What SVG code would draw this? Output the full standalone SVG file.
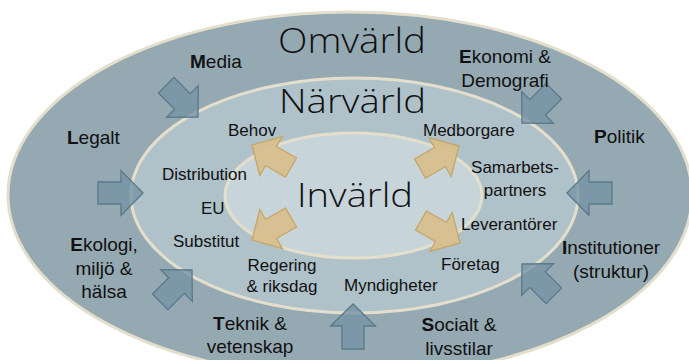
<svg xmlns="http://www.w3.org/2000/svg" width="689" height="360" viewBox="0 0 689 360">
<style>
.ring{stroke:#e4dfcc;stroke-width:3}
.title{font-family:"Open Sans","DejaVu Sans",sans-serif;font-weight:300;fill:#111}
.out{font-family:"Liberation Sans",Arial,sans-serif;font-size:19px;fill:#111}
.in{font-family:"Liberation Sans",Arial,sans-serif;font-size:17px;fill:#111}
.b{font-weight:bold}
.blue{fill:#7494a5;fill-opacity:0.78;stroke:#5a7989;stroke-width:1.3}
.gold{fill:#d8bf8d;fill-opacity:0.95;stroke:#c6a669;stroke-width:1.3}
</style>
<defs>
<path id="arr" d="M0,0 L-22,-22.5 L-22,-11 L-45,-11 L-45,11 L-22,11 L-22,22.5 Z"/>
</defs>
<rect width="689" height="360" fill="#ffffff"/>
<g id="omvarld">
<ellipse class="ring" cx="350" cy="195" rx="342" ry="183" fill="#95a9b3"/>
<text class="title" x="278" y="53" font-size="34" textLength="148" lengthAdjust="spacingAndGlyphs">Omvärld</text>
</g>
<g id="narvarld">
<ellipse class="ring" cx="354.5" cy="195.5" rx="223.5" ry="117.5" fill="#afc1c9"/>
<text class="title" x="279" y="113" font-size="33" textLength="147" lengthAdjust="spacingAndGlyphs">Närvärld</text>
</g>
<g id="invarld">
<ellipse class="ring" cx="353.5" cy="195.5" rx="128.5" ry="62.5" fill="#c7d5db"/>
<text class="title" x="297" y="207" font-size="33" textLength="116" lengthAdjust="spacingAndGlyphs">Invärld</text>
</g>
<g id="connectors">
<use href="#arr" class="blue" transform="translate(198,117) rotate(45)"/>
<use href="#arr" class="blue" transform="translate(522,123) rotate(135)"/>
<use href="#arr" class="blue" transform="translate(143,193)"/>
<use href="#arr" class="blue" transform="translate(567,193) rotate(180)"/>
<use href="#arr" class="blue" transform="translate(192,270) rotate(-45)"/>
<use href="#arr" class="blue" transform="translate(522,264) rotate(-135)"/>
<use href="#arr" class="blue" transform="translate(353,304) rotate(-90)"/>
<use href="#arr" class="gold" transform="translate(252,145) rotate(-150)"/>
<use href="#arr" class="gold" transform="translate(459,146) rotate(-30)"/>
<use href="#arr" class="gold" transform="translate(252,240) rotate(150)"/>
<use href="#arr" class="gold" transform="translate(460,243) rotate(30)"/>
</g>
<g id="outer-labels">
<g id="media"><text class="out" x="190" y="68"><tspan class="b">M</tspan>edia</text></g>
<g id="ekonomi"><text class="out" text-anchor="middle" x="505" y="63"><tspan class="b">E</tspan>konomi &amp;</text><text class="out" text-anchor="middle" x="505" y="87">Demografi</text></g>
<g id="legalt"><text class="out" x="67" y="144"><tspan class="b">L</tspan>egalt</text></g>
<g id="politik"><text class="out" x="594" y="143"><tspan class="b">P</tspan>olitik</text></g>
<g id="ekologi"><text class="out" text-anchor="middle" x="104" y="251"><tspan class="b">E</tspan>kologi,</text><text class="out" text-anchor="middle" x="104" y="275">miljö &amp;</text><text class="out" text-anchor="middle" x="104" y="298">hälsa</text></g>
<g id="teknik"><text class="out" text-anchor="middle" x="250" y="330"><tspan class="b">T</tspan>eknik &amp;</text><text class="out" text-anchor="middle" x="250" y="353">vetenskap</text></g>
<g id="socialt"><text class="out" text-anchor="middle" x="459" y="331"><tspan class="b">S</tspan>ocialt &amp;</text><text class="out" text-anchor="middle" x="459" y="355">livsstilar</text></g>
<g id="institutioner"><text class="out" text-anchor="middle" x="611" y="254"><tspan class="b">I</tspan>nstitutioner</text><text class="out" text-anchor="middle" x="611" y="278">(struktur)</text></g>
</g>
<g id="inner-labels">
<g id="behov"><text class="in" x="228" y="136">Behov</text></g>
<g id="medborgare"><text class="in" x="423" y="136">Medborgare</text></g>
<g id="samarbetspartners"><text class="in" text-anchor="middle" x="515" y="173">Samarbets-</text><text class="in" text-anchor="middle" x="515" y="196">partners</text></g>
<g id="distribution"><text class="in" x="162" y="180">Distribution</text></g>
<g id="eu"><text class="in" x="201" y="214">EU</text></g>
<g id="substitut"><text class="in" x="173" y="247">Substitut</text></g>
<g id="leverantorer"><text class="in" x="461" y="230">Leverantörer</text></g>
<g id="regering"><text class="in" text-anchor="middle" x="282" y="271">Regering</text><text class="in" text-anchor="middle" x="282" y="292">&amp; riksdag</text></g>
<g id="foretag"><text class="in" x="441" y="270">Företag</text></g>
<g id="myndigheter"><text class="in" x="344" y="291">Myndigheter</text></g>
</g>
</svg>
